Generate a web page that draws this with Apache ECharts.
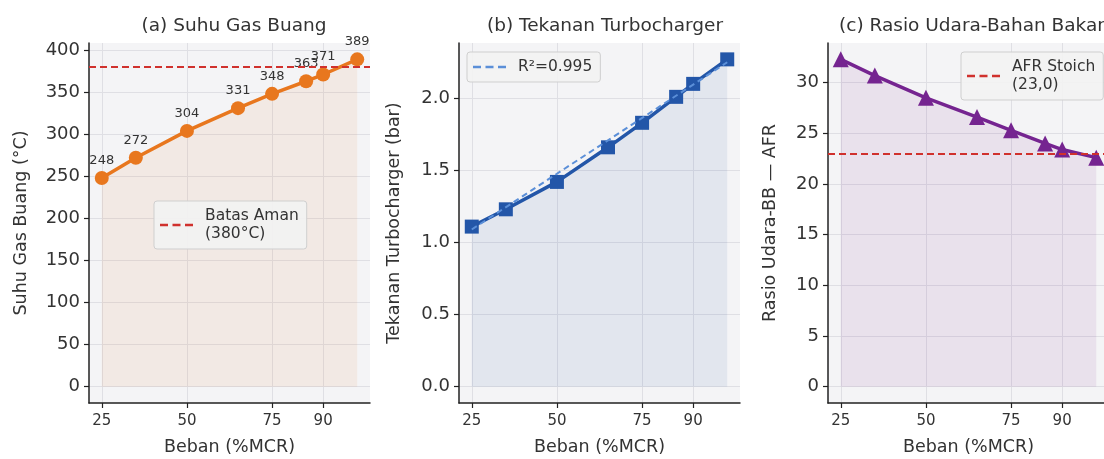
<!DOCTYPE html>
<html>
<head>
<meta charset="utf-8">
<script src="https://cdn.jsdelivr.net/npm/echarts@6/dist/echarts.min.js"></script>
<style>
  html, body { margin: 0; padding: 0; background: #fff; }
  #main { width: 1104px; height: 459px; }
</style>
</head>
<body>
<div id="main"></div>
<script>
// data
const loads = [25, 35, 50, 65, 75, 85, 90, 100];
const gasTemp = [248, 272, 304, 331, 348, 363, 371, 389];
const turboPress = [1.11, 1.23, 1.42, 1.66, 1.83, 2.01, 2.10, 2.27];
const afr = [32.3, 30.7, 28.5, 26.6, 25.3, 24.0, 23.4, 22.6];
const trendLoads = [25, 100];
const trendPress = [1.09, 2.25];
const xTicks = [25, 50, 75, 90];
const tempTicks = [0, 50, 100, 150, 200, 250, 300, 350, 400];
const pressTicks = [0, 0.5, 1.0, 1.5, 2.0];
const afrTicks = [0, 5, 10, 15, 20, 25, 30];
const tempLimit = 380;
const afrStoich = 23.0;

const FONT = 'DejaVu Sans';
const ORANGE = '#e8771e';
const BLUE = '#2356a8';
const PURPLE = '#752490';
const RED = '#d0312d';
// three short dashes for the legend sample
const DASH_ICON = 'path://M0 0h8v2.4H0z M12.5 0h8v2.4h-8z M25 0h8v2.4h-8z';

function pairs(xs, ys) {
  return xs.map((x, i) => [x, ys[i]]);
}

function gridBox(left) {
  return {
    left: left, top: 43, width: 281, height: 360,
    show: true, backgroundColor: '#f4f4f6', borderWidth: 0,
    containLabel: false, outerBoundsMode: 'none'
  };
}

function xAxisFor(idx) {
  return {
    type: 'value', gridIndex: idx, min: 21.25, max: 103.75,
    name: 'Beban (%MCR)', nameLocation: 'middle', nameGap: 35,
    nameTextStyle: { fontFamily: FONT, fontSize: 17.5, color: '#333' },
    axisLine: { show: true, onZero: false, lineStyle: { color: '#222', width: 1.5 } },
    axisTick: { show: true, length: 5, customValues: xTicks, lineStyle: { color: '#222', width: 1.2 } },
    axisLabel: { customValues: xTicks, margin: 11, fontFamily: FONT, fontSize: 15, color: '#333' },
    splitLine: { show: true, lineStyle: { color: '#dfdfe4', width: 1 } }
  };
}

function yAxisFor(idx, min, max, ticks, name, gap, fmt) {
  return {
    type: 'value', gridIndex: idx, min: min, max: max,
    name: name, nameLocation: 'middle', nameGap: gap,
    nameTextStyle: { fontFamily: FONT, fontSize: 17.5, color: '#333' },
    axisLine: { show: true, onZero: false, lineStyle: { color: '#222', width: 1.5 } },
    axisTick: { show: true, length: 5, customValues: ticks, lineStyle: { color: '#222', width: 1.2 } },
    axisLabel: { customValues: ticks, margin: 9, fontFamily: FONT, fontSize: 18, color: '#333', formatter: fmt },
    splitLine: { show: true, lineStyle: { color: '#dfdfe4', width: 1 } }
  };
}

function legendBox(left, top, name) {
  return {
    left: left, top: top, data: [{ name: name, icon: DASH_ICON }], orient: 'vertical',
    itemWidth: 33, itemHeight: 2.4, padding: [6, 8, 6, 6],
    backgroundColor: 'rgba(242,242,242,0.92)', borderColor: '#cfcfcf', borderWidth: 1, borderRadius: 3,
    textStyle: { fontFamily: FONT, fontSize: 15.5, color: '#333', lineHeight: 18, padding: [0, 0, 0, 7] }
  };
}

const myChart = echarts.init(document.getElementById('main'));

const titleStyle = { fontFamily: FONT, fontSize: 18.5, fontWeight: 'normal', color: '#333' };

const option = {
  backgroundColor: '#fff',
  animation: false,
  title: [
    { text: '(a) Suhu Gas Buang', left: 229, top: 12, textAlign: 'center', textStyle: titleStyle },
    { text: '(b) Tekanan Turbocharger', left: 600, top: 12, textAlign: 'center', textStyle: titleStyle },
    { text: '(c) Rasio Udara-Bahan Bakar', left: 967, top: 12, textAlign: 'center', textStyle: titleStyle }
  ],
  grid: [gridBox(89), gridBox(459), gridBox(828)],
  xAxis: [xAxisFor(0), xAxisFor(1), xAxisFor(2)],
  yAxis: [
    yAxisFor(0, -19.45, 408.45, tempTicks, 'Suhu Gas Buang (°C)', 59, v => String(v)),
    yAxisFor(1, -0.1135, 2.3835, pressTicks, 'Tekanan Turbocharger (bar)', 56, v => v.toFixed(1)),
    yAxisFor(2, -1.615, 33.915, afrTicks, 'Rasio Udara-BB — AFR', 49, v => String(v))
  ],
  legend: [
    legendBox(154, 201, 'Batas Aman\n(380°C)'),
    legendBox(467, 52, 'R²=0.995'),
    legendBox(961, 52, 'AFR Stoich\n(23,0)')
  ],
  series: [
    {
      name: 'Suhu', type: 'line', xAxisIndex: 0, yAxisIndex: 0,
      data: pairs(loads, gasTemp),
      symbol: 'circle', symbolSize: 14,
      lineStyle: { color: ORANGE, width: 3.5 },
      itemStyle: { color: ORANGE },
      areaStyle: { origin: 0, color: 'rgba(232,119,30,0.11)' },
      label: { show: true, position: 'top', distance: 4, fontFamily: FONT, fontSize: 13, color: '#333' },
      z: 3
    },
    {
      name: 'Batas Aman\n(380°C)', type: 'line', xAxisIndex: 0, yAxisIndex: 0,
      data: [], symbol: 'none',
      lineStyle: { color: RED, width: 2, type: [7, 4] },
      itemStyle: { color: RED },
      markLine: {
        silent: true, symbol: 'none', label: { show: false },
        lineStyle: { color: RED, width: 2, type: [7, 4] },
        data: [{ yAxis: tempLimit }]
      },
      z: 2
    },
    {
      name: 'Tekanan', type: 'line', xAxisIndex: 1, yAxisIndex: 1,
      data: pairs(loads, turboPress),
      symbol: 'rect', symbolSize: 14,
      lineStyle: { color: BLUE, width: 3.5 },
      itemStyle: { color: BLUE },
      areaStyle: { origin: 0, color: 'rgba(35,86,168,0.12)' },
      z: 3
    },
    {
      name: 'R²=0.995', type: 'line', xAxisIndex: 1, yAxisIndex: 1,
      data: pairs(trendLoads, trendPress), symbol: 'none',
      lineStyle: { color: '#5b8fd8', width: 2, type: [6, 4] },
      itemStyle: { color: '#5b8fd8' },
      z: 4
    },
    {
      name: 'AFR', type: 'line', xAxisIndex: 2, yAxisIndex: 2,
      data: pairs(loads, afr),
      symbol: 'triangle', symbolSize: 16,
      lineStyle: { color: PURPLE, width: 3.5 },
      itemStyle: { color: PURPLE },
      areaStyle: { origin: 0, color: 'rgba(117,36,144,0.13)' },
      z: 3
    },
    {
      name: 'AFR Stoich\n(23,0)', type: 'line', xAxisIndex: 2, yAxisIndex: 2,
      data: [], symbol: 'none',
      lineStyle: { color: RED, width: 2, type: [7, 4] },
      itemStyle: { color: RED },
      markLine: {
        silent: true, symbol: 'none', label: { show: false },
        lineStyle: { color: RED, width: 2, type: [7, 4] },
        data: [{ yAxis: afrStoich }]
      },
      z: 2
    }
  ]
};

myChart.setOption(option, true);
window.addEventListener('resize', () => {
  myChart.resize();
});
</script>
</body>
</html>
